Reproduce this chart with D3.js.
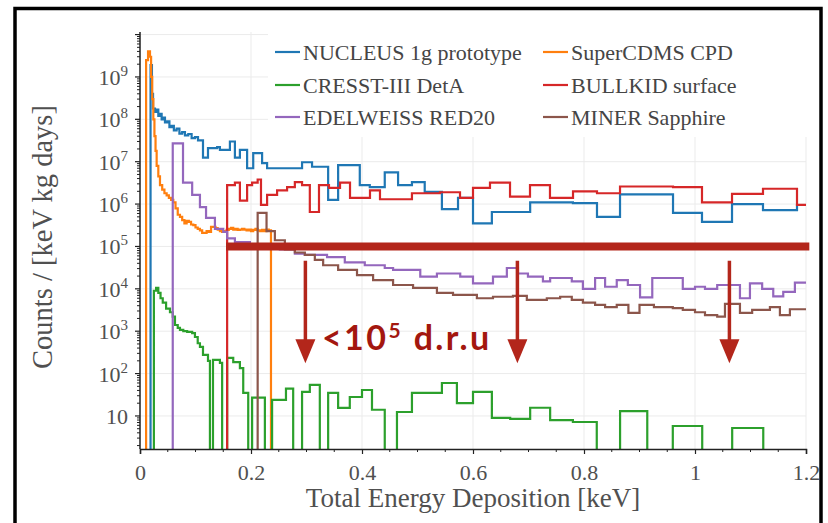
<!DOCTYPE html>
<html>
<head>
<meta charset="utf-8">
<script src="https://cdn.jsdelivr.net/npm/d3@7"></script>
<style>
  html, body { margin: 0; padding: 0; background: #fff; }
  svg { display: block; }
</style>
</head>
<body>
<svg id="chart" width="828" height="523"></svg>
<script>
// ---------- axis ticks ----------
const energyTicks = [0, 0.2, 0.4, 0.6, 0.8, 1, 1.2];
const energyTickLabels = ["0", "0.2", "0.4", "0.6", "0.8", "1", "1.2"];
const countTicks = [1e1, 1e2, 1e3, 1e4, 1e5, 1e6, 1e7, 1e8, 1e9];
const countTickExponents = ["", "2", "3", "4", "5", "6", "7", "8", "9"];
const countGrid = [1e1, 1e2, 1e3, 1e4, 1e5, 1e6, 1e7, 1e8, 1e9, 1e10];

// ---------- spectra: bin edges [keV] and rates per bin [counts / (keV kg days)] ----------
const nucleusEdges = [0.019, 0.0215, 0.0235, 0.027, 0.030, 0.033, 0.036, 0.039, 0.042, 0.045, 0.049, 0.053, 0.057, 0.061, 0.066, 0.071, 0.076, 0.081, 0.087, 0.093, 0.099, 0.1045, 0.1135, 0.1225, 0.139, 0.144, 0.162, 0.171, 0.180, 0.193, 0.204, 0.220, 0.229, 0.292, 0.310, 0.339, 0.357, 0.396, 0.414, 0.441, 0.465, 0.490, 0.513, 0.544, 0.573, 0.600, 0.634, 0.703, 0.780, 0.8234, 0.8649, 0.9604, 1.0126, 1.0667, 1.1225, 1.1838, 1.22];
const nucleusCounts = [1.9e9, 4e8, 1.8e8, 1.5e8, 1.7e8, 1.2e8, 1.35e8, 1.0e8, 1.1e8, 8.5e7, 9e7, 6.5e7, 7e7, 5.5e7, 6e7, 4.6e7, 5e7, 4.2e7, 4.5e7, 3.6e7, 3.8e7, 3.2e7, 1.25e7, 2.1e7, 2.2e7, 1.9e7, 3e7, 1.25e7, 1.9e7, 7e6, 1.6e7, 9.3e6, 7e6, 9.7e6, 7.6e6, 1.26e6, 8.3e6, 2.8e6, 2.5e6, 5.6e6, 2.8e6, 3.3e6, 1.95e6, 7.6e5, 1.4e6, 3.5e5, 6.5e5, 1.1e6, 1.05e6, 5e5, 1.7e6, 6.2e5, 3.8e5, 1.0e6, 7.2e5, 9.5e5];

const supercdmsEdges = [0.011, 0.0145, 0.018, 0.020, 0.022, 0.024, 0.026, 0.028, 0.030, 0.033, 0.036, 0.040, 0.044, 0.048, 0.052, 0.056, 0.060, 0.064, 0.068, 0.072, 0.076, 0.080, 0.084, 0.088, 0.092, 0.096, 0.100, 0.104, 0.108, 0.112, 0.116, 0.120, 0.124, 0.128, 0.132, 0.136, 0.140, 0.144, 0.148, 0.152, 0.156, 0.160, 0.164, 0.168, 0.172, 0.176, 0.180, 0.184, 0.188, 0.192, 0.196, 0.200, 0.204, 0.208, 0.212, 0.216, 0.220, 0.224, 0.228, 0.232, 0.236];
const supercdmsCounts = [2.5e9, 4e9, 3e9, 1e9, 3e8, 1e8, 4e7, 1.8e7, 8e6, 4.5e6, 2.8e6, 2.2e6, 1.8e6, 1.6e6, 1.4e6, 1.26e6, 1.1e6, 7.9e5, 5.6e5, 5.0e5, 4.2e5, 3.5e5, 4.0e5, 3.8e5, 3.3e5, 3.2e5, 2.8e5, 2.6e5, 2.4e5, 2.1e5, 2.1e5, 2.3e5, 2.2e5, 2.9e5, 2.9e5, 2.7e5, 2.5e5, 2.3e5, 2.2e5, 2.3e5, 2.45e5, 2.6e5, 2.75e5, 2.5e5, 2.6e5, 2.45e5, 2.5e5, 2.6e5, 2.5e5, 2.4e5, 2.5e5, 2.3e5, 2.45e5, 2.6e5, 2.4e5, 2.3e5, 2.45e5, 2.3e5, 2.5e5, 2.4e5];

const cresstEdges = [0.025, 0.029, 0.033, 0.037, 0.041, 0.047, 0.054, 0.059, 0.063, 0.068, 0.072, 0.078, 0.085, 0.094, 0.099, 0.104, 0.108, 0.1135, 0.1225, 0.126, 0.1315, 0.144, 0.148, 0.157, 0.168, 0.180, 0.186, 0.195, 0.202, 0.225, 0.238, 0.263, 0.276, 0.292, 0.306, 0.324, 0.339, 0.357, 0.378, 0.400, 0.418, 0.441, 0.463, 0.490, 0.544, 0.571, 0.600, 0.634, 0.667, 0.703, 0.739, 0.780, 0.823, 0.865, 0.914, 0.960, 1.013, 1.067, 1.123];
const cresstCounts = [9000, 10500, 8000, 6000, 4700, 3400, 2800, 2200, 1400, 1200, 1070, 1000, 960, 900, 730, 520, 425, 275, 200, 0, 210, 178, 0, 235, 187, 134, 35, 0, 27, 0, 24, 44, 0, 37, 54, 0, 35, 15.5, 28, 41, 14, 0, 12.4, 35, 60, 20, 37, 9, 8.5, 15.6, 8, 7.2, 0, 13, 0, 5.8, 0, 5.2];

const bullkidEdges = [0.157, 0.171, 0.180, 0.193, 0.202, 0.212, 0.218, 0.229, 0.247, 0.265, 0.279, 0.292, 0.306, 0.3225, 0.3405, 0.3604, 0.3784, 0.4144, 0.4324, 0.490, 0.5405, 0.5766, 0.600, 0.6306, 0.6667, 0.7027, 0.7387, 0.7802, 0.8234, 0.8649, 0.9604, 1.0126, 1.0667, 1.1225, 1.1838, 1.22];
const bullkidCounts = [2.8e6, 3.2e6, 1.2e6, 2.8e6, 3.2e6, 3.8e6, 9.6e5, 1.65e6, 2.1e6, 2.5e6, 3.3e6, 2.8e6, 6.5e5, 2.8e6, 2.4e6, 3.2e6, 1.4e6, 2.1e6, 1.3e6, 1.8e6, 1.9e6, 1.4e6, 2.4e6, 3.2e6, 1.5e6, 2.8e6, 1.4e6, 2.0e6, 1.8e6, 2.6e6, 2.5e6, 1.1e6, 1.75e6, 2.3e6, 9.6e5];

const edelweissEdges = [0.059, 0.0775, 0.094, 0.108, 0.119, 0.135, 0.150, 0.157, 0.171, 0.198, 0.225, 0.252, 0.279, 0.297, 0.337, 0.369, 0.405, 0.441, 0.456, 0.505, 0.535, 0.577, 0.600, 0.636, 0.661, 0.681, 0.699, 0.726, 0.739, 0.778, 0.798, 0.820, 0.838, 0.859, 0.879, 0.901, 0.923, 0.978, 1.000, 1.018, 1.040, 1.081, 1.099, 1.121, 1.141, 1.159, 1.180, 1.22];
const edelweissCounts = [2.7e7, 3.2e6, 1.65e6, 8.5e5, 4.7e5, 2.6e5, 2.2e5, 1.55e5, 1.26e5, 1.12e5, 1.0e5, 8.5e4, 6.8e4, 6.3e4, 5.6e4, 4.2e4, 3.6e4, 3.1e4, 2.8e4, 1.95e4, 2.3e4, 1.95e4, 1.35e4, 1.95e4, 3.1e4, 2.3e4, 1.95e4, 1.5e4, 1.8e4, 1.5e4, 1.0e4, 1.8e4, 1.12e4, 1.6e4, 1.23e4, 6.3e3, 1.8e4, 1.0e4, 1.12e4, 1.0e4, 1.23e4, 6.0e3, 1.35e4, 1.0e4, 6.6e3, 8.5e3, 1.4e4];

const minerEdges = [0.212, 0.228, 0.243, 0.261, 0.279, 0.297, 0.315, 0.330, 0.357, 0.391, 0.420, 0.456, 0.492, 0.535, 0.564, 0.607, 0.636, 0.672, 0.697, 0.733, 0.757, 0.778, 0.798, 0.820, 0.838, 0.859, 0.880, 0.900, 0.926, 0.960, 0.978, 1.000, 1.018, 1.040, 1.054, 1.081, 1.103, 1.135, 1.153, 1.171, 1.22];
const minerCounts = [6.2e5, 2.3e5, 1.4e5, 8.5e4, 7.2e4, 6.3e4, 4.8e4, 3.6e4, 2.8e4, 2.1e4, 1.6e4, 1.23e4, 1.05e4, 8e3, 7.2e3, 6e3, 6.5e3, 6.8e3, 5.5e3, 6e3, 6.5e3, 5.5e3, 4.7e3, 4.2e3, 3.7e3, 4.2e3, 2.7e3, 4.2e3, 3.7e3, 3.5e3, 3.2e3, 2.8e3, 2.4e3, 2.2e3, 4.4e3, 2.7e3, 3.2e3, 3.7e3, 2.4e3, 3.3e3];

const seriesNames = ["NUCLEUS 1g prototype", "SuperCDMS CPD", "CRESST-III DetA", "BULLKID surface", "EDELWEISS RED20", "MINER Sapphire"];
const seriesColors = ["#1f77b4", "#ff7f0e", "#2ca02c", "#d62728", "#9467bd", "#8c564b"];
const seriesEdges = [nucleusEdges, supercdmsEdges, cresstEdges, bullkidEdges, edelweissEdges, minerEdges];
const seriesCounts = [nucleusCounts, supercdmsCounts, cresstCounts, bullkidCounts, edelweissCounts, minerCounts];
// legend layout: [column, row] for each series
const legendSlots = [[0, 0], [1, 0], [0, 1], [1, 1], [0, 2], [1, 2]];

// ---------- annotation: background target ----------
const targetRate = 1e5;
const targetRange = [0.155, 1.206];
const arrowEnergies = [0.298, 0.680, 1.062];
const arrowFrom = 4.6e4, arrowTo = 1.75e2;

// ---------- layout ----------
const svg = d3.select("#chart");
const W = 828, H = 523;
const plot = { left: 140, right: 806, top: 32, bottom: 449 };

const x = d3.scaleLinear().domain([0, 1.2]).range([plot.left, plot.right]);
const y = d3.scaleLog().domain([1.66, 1.15e10]).range([plot.bottom, plot.top]);
const yv = v => v > 0 ? y(v) : plot.bottom + 10;

const serif = "'Liberation Serif', 'Times New Roman', serif";
const textGray = "#505050";

svg.append("rect").attr("width", W).attr("height", H).attr("fill", "#fff");

// grid
const grid = svg.append("g").attr("stroke", "#ebebeb").attr("stroke-width", 1);
grid.selectAll("line.v").data(energyTicks).join("line")
  .attr("x1", d => x(d)).attr("x2", d => x(d))
  .attr("y1", plot.top).attr("y2", plot.bottom);
grid.selectAll("line.h").data(countGrid).join("line")
  .attr("x1", plot.left).attr("x2", plot.right)
  .attr("y1", d => y(d)).attr("y2", d => y(d));

// legend background (covers the grid behind it)
svg.append("rect").attr("x", 268).attr("y", 28).attr("width", 540).attr("height", 109).attr("fill", "#fff");

// spectra
svg.append("defs").append("clipPath").attr("id", "plotclip")
  .append("rect").attr("x", plot.left).attr("y", plot.top - 30)
  .attr("width", plot.right - plot.left).attr("height", plot.bottom - plot.top + 30);

const line = d3.line().x(d => x(d[0])).y(d => yv(d[1])).curve(d3.curveStepAfter);
const spectra = svg.append("g").attr("clip-path", "url(#plotclip)");
seriesEdges.forEach((edges, i) => {
  const counts = seriesCounts[i];
  const pts = [[edges[0], 0]];
  counts.forEach((c, k) => pts.push([edges[k], c]));
  pts.push([edges[edges.length - 1], counts[counts.length - 1]]);
  pts.push([edges[edges.length - 1], 0]);
  spectra.append("path").attr("d", line(pts))
    .attr("fill", "none").attr("stroke", seriesColors[i])
    .attr("stroke-width", 2.2).attr("stroke-linejoin", "miter");
});

// axes
const axisColor = "#222";
const xAxis = d3.axisBottom(x).tickValues(energyTicks).tickFormat((d, i) => energyTickLabels[i]).tickSize(5).tickPadding(10);
const gx = svg.append("g").attr("transform", `translate(0,${plot.bottom})`).call(xAxis);
gx.select(".domain").attr("stroke", axisColor).attr("stroke-width", 1.5);
gx.selectAll(".tick line").attr("stroke", axisColor).attr("stroke-width", 1.2);
gx.selectAll(".tick text").attr("font-family", serif).attr("font-size", 22).attr("fill", textGray);
const xMinor = d3.range(0.05, 1.2, 0.1).concat(d3.range(0.1, 1.2, 0.2));
gx.selectAll("line.minor").data(xMinor).join("line").attr("class", "minor")
  .attr("x1", d => x(d)).attr("x2", d => x(d)).attr("y1", 0).attr("y2", 3)
  .attr("stroke", axisColor).attr("stroke-width", 1);

const gy = svg.append("g");
gy.append("line").attr("x1", plot.left).attr("x2", plot.left).attr("y1", plot.top).attr("y2", plot.bottom)
  .attr("stroke", axisColor).attr("stroke-width", 1.5);
const yMinor = [];
for (let e = 0; e <= 10; e++) for (let m = 2; m <= 9; m++) {
  const v = m * Math.pow(10, e);
  if (v > y.domain()[0] && v < y.domain()[1]) yMinor.push(v);
}
gy.selectAll("line.minor").data(yMinor).join("line")
  .attr("x1", plot.left - 3).attr("x2", plot.left).attr("y1", d => y(d)).attr("y2", d => y(d))
  .attr("stroke", axisColor).attr("stroke-width", 1);
gy.selectAll("line.major").data(countGrid).join("line")
  .attr("x1", plot.left - 5).attr("x2", plot.left).attr("y1", d => y(d)).attr("y2", d => y(d))
  .attr("stroke", axisColor).attr("stroke-width", 1.2);
const ylab = gy.selectAll("text.lab").data(countTicks).join("text")
  .attr("x", 128).attr("y", d => y(d) + 8)
  .attr("text-anchor", "end").attr("font-family", serif).attr("font-size", 22).attr("fill", textGray);
ylab.append("tspan").text("10");
ylab.append("tspan").attr("dy", (d, i) => countTickExponents[i] ? -9 : 0).attr("font-size", 15)
  .text((d, i) => countTickExponents[i]);

// axis titles
svg.append("text").attr("x", (plot.left + plot.right) / 2).attr("y", 507)
  .attr("text-anchor", "middle").attr("font-family", serif).attr("font-size", 27).attr("fill", textGray)
  .text("Total Energy Deposition [keV]");
svg.append("text").attr("transform", `translate(52,237) rotate(-90)`)
  .attr("text-anchor", "middle").attr("font-family", serif).attr("font-size", 28.5).attr("fill", textGray)
  .text("Counts / [keV kg days]");

// legend
const legendCols = [275, 543];
const legendRows = [52, 85, 117];
seriesNames.forEach((name, s) => {
  const [c, r] = legendSlots[s];
  const g = svg.append("g").attr("transform", `translate(${legendCols[c]},${legendRows[r]})`);
  g.append("line").attr("x1", 0).attr("x2", 25).attr("y1", 0).attr("y2", 0)
    .attr("stroke", seriesColors[s]).attr("stroke-width", 2.2);
  g.append("text").attr("x", 28).attr("y", 8).attr("font-family", serif).attr("font-size", 22)
    .attr("fill", "#454545").text(name);
});

// background target annotation
const red = "#b3261b";
svg.append("line").attr("x1", x(targetRange[0])).attr("x2", x(targetRange[1]))
  .attr("y1", y(targetRate)).attr("y2", y(targetRate))
  .attr("stroke", red).attr("stroke-width", 8);
arrowEnergies.forEach(e => {
  const xa = x(e), y0 = y(arrowFrom), y1 = y(arrowTo);
  svg.append("line").attr("x1", xa).attr("x2", xa).attr("y1", y0).attr("y2", y1 - 20)
    .attr("stroke", red).attr("stroke-width", 3.5);
  svg.append("path").attr("d", `M${xa - 10},${y1 - 24} L${xa + 10},${y1 - 24} L${xa},${y1} Z`).attr("fill", red);
});
const note = svg.append("text").attr("x", 322).attr("y", 350)
  .attr("font-family", "Lato, 'Open Sans', sans-serif").attr("font-weight", 700)
  .attr("font-size", 34).attr("letter-spacing", 2.4).attr("fill", "#a3170f");
note.append("tspan").text("<10");
note.append("tspan").attr("dy", -12).attr("font-size", 21).text("5");
note.append("tspan").attr("dy", 12).text(" d.r.u");

// outer frame
svg.append("rect").attr("x", 15).attr("y", 8.5).attr("width", 806).attr("height", 530)
  .attr("fill", "none").attr("stroke", "#000").attr("stroke-width", 3.5);
</script>
</body>
</html>
